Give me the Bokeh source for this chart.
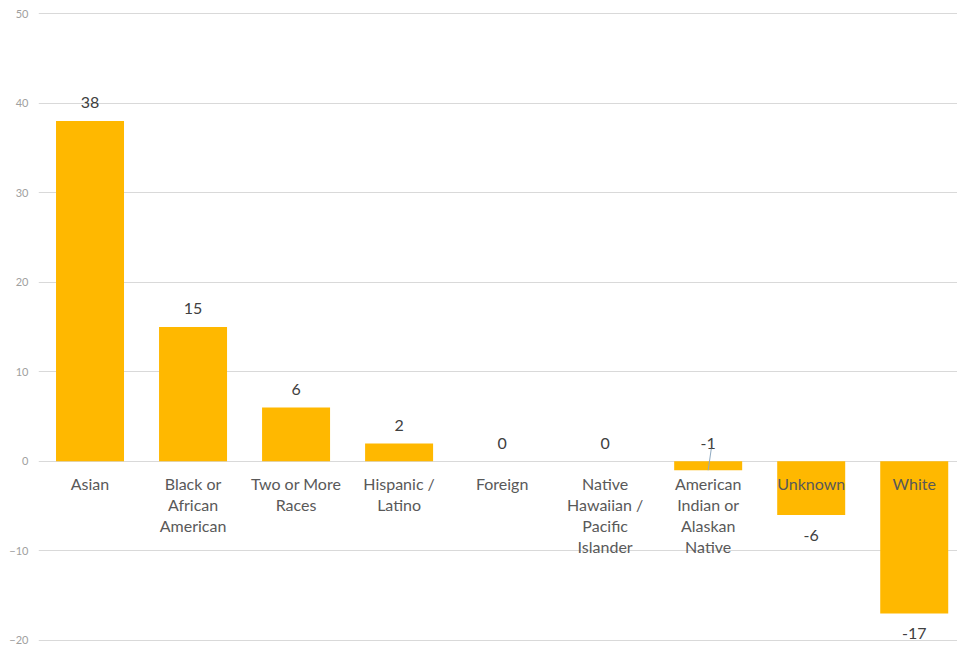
from bokeh.plotting import figure
from bokeh.models import ColumnDataSource, FixedTicker, Range1d
from bokeh.core.properties import value
from bokeh.embed import file_html
from bokeh.resources import INLINE

categories = ["Asian", "Black or\nAfrican\nAmerican", "Two or More\nRaces", "Hispanic /\nLatino",
              "Foreign", "Native\nHawaiian /\nPacific\nIslander", "American\nIndian or\nAlaskan\nNative",
              "Unknown", "White"]
values = [38, 15, 6, 2, 0, 0, -1, -6, -17]
y_ticks = [-20, -10, 0, 10, 20, 30, 40, 50]

BAR = "#FFB800"
FONT = "Lato"

xs = list(range(len(categories)))

p = figure(width=957, height=652, output_backend="svg", toolbar_location=None,
           x_range=Range1d(-0.5, 8.42), y_range=Range1d(-20.45, 50.56),
           min_border_left=38, min_border_right=0, min_border_top=8, min_border_bottom=8)
p.outline_line_color = None
p.xaxis.visible = False
p.xgrid.grid_line_color = None
p.ygrid.grid_line_color = "#D9D9D9"
p.ygrid.grid_line_width = 1
p.yaxis.ticker = FixedTicker(ticks=y_ticks)
p.yaxis.axis_line_color = None
p.yaxis.major_tick_line_color = None
p.yaxis.major_tick_out = 0
p.yaxis.major_tick_in = 0
p.yaxis.minor_tick_line_color = None
p.yaxis.major_label_text_font = FONT
p.yaxis.major_label_text_font_size = "11px"
p.yaxis.major_label_text_color = "#A0A0A0"
p.yaxis.major_label_standoff = 10

src = ColumnDataSource(dict(x=xs, top=values))
p.vbar(x="x", top="top", bottom=0, width=0.66, source=src, fill_color=BAR, line_color=None)

# category labels below zero line
p.text(x=xs, y=[0] * len(xs), text=categories, text_align="center", text_baseline="top",
       y_offset=13, text_font=value(FONT), text_font_size="16px", text_color="#595959",
       text_line_height=1.1)

# value labels
above_x, above_y, above_t = [], [], []
below_x, below_y, below_t = [], [], []
leader_x, leader_y = [], []
for x, v in zip(xs, values):
    if v >= 0:
        above_x.append(x); above_y.append(v); above_t.append(str(v))
    elif v > -3:
        above_x.append(x); above_y.append(0); above_t.append(str(v))
        leader_x.append(x)
        leader_y.append(v)
    else:
        below_x.append(x); below_y.append(v); below_t.append(str(v))

p.text(x=above_x, y=above_y, text=above_t, text_align="center", text_baseline="middle",
       y_offset=-18, text_font=value(FONT), text_font_size="16px", text_color="#404040")
p.text(x=below_x, y=below_y, text=below_t, text_align="center", text_baseline="middle",
       y_offset=20, text_font=value(FONT), text_font_size="16px", text_color="#404040")
for lx, ly in zip(leader_x, leader_y):
    p.segment(x0=[lx + 0.03], y0=[1.4], x1=[lx], y1=[ly / 2 - 0.5], line_color="#8EA9C1", line_width=1)

open("out.html", "w").write(file_html(p, INLINE))
